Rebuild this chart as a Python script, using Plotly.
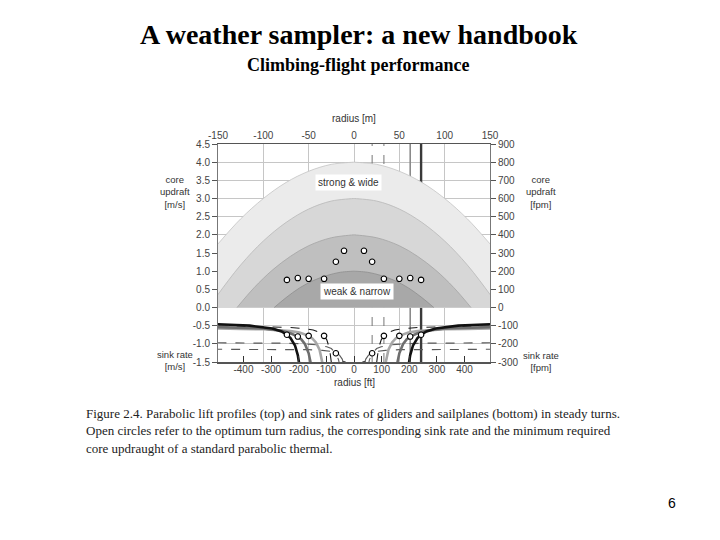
import plotly.graph_objects as go

# ---------------- data ----------------
# Upper panel: parabolic lift profiles, one side (radius m, core updraft m/s)
lift_strong_wide_r = [0, 25, 50, 75, 100, 125, 150]
lift_strong_wide_w = [4.00, 3.94, 3.75, 3.44, 3.00, 2.44, 1.75]
lift_second_r = [0, 25, 50, 75, 100, 125, 150, 160]
lift_second_w = [3.00, 2.93, 2.71, 2.34, 1.83, 1.17, 0.36, 0.0]
lift_third_r = [0, 25, 50, 70, 90, 110, 129]
lift_third_w = [2.00, 1.92, 1.70, 1.41, 1.03, 0.55, 0.0]
lift_weak_narrow_r = [0, 15, 30, 45, 60, 75, 88]
lift_weak_narrow_w = [1.00, 0.97, 0.88, 0.74, 0.54, 0.27, 0.0]

# Optimum turn radius (m), min required core updraft (m/s), corresponding sink rate (m/s)
opt_radius = [11, 20, 33, 50, 62, 74]
opt_core_updraft = [1.56, 1.26, 0.79, 0.79, 0.81, 0.76]
opt_sink = [-1.57, -1.26, -0.78, -0.78, -0.80, -0.75]

# Vertical marker lines at optimum radii (m)
marker_line_r = [20, 33, 62, 74]

# Sink rates in steady turns (radius m, sink m/s), one side
sink_1_r = [7, 8, 10, 11, 13, 16, 20, 25, 35, 50, 80, 150]
sink_1_w = [-4.46, -2.47, -1.71, -1.57, -1.42, -1.31, -1.25, -1.21, -1.18, -1.16, -1.16, -1.15]
sink_2_r = [11.5, 13, 15, 17, 20, 25, 30, 40, 55, 80, 110, 150]
sink_2_w = [-5.09, -2.37, -1.69, -1.44, -1.26, -1.13, -1.08, -1.03, -1.00, -0.98, -0.98, -0.97]
sink_3_r = [23, 25, 27, 30, 33, 38, 45, 55, 70, 90, 120, 150]
sink_3_w = [-2.99, -1.51, -1.13, -0.89, -0.78, -0.68, -0.62, -0.58, -0.55, -0.53, -0.52, -0.51]
sink_4_r = [31, 33, 35, 38, 42, 46, 50, 60, 70, 85, 100, 125, 150]
sink_4_w = [-4.43, -2.08, -1.51, -1.16, -0.96, -0.85, -0.78, -0.69, -0.65, -0.62, -0.60, -0.59, -0.58]
sink_5_r = [44, 46, 48, 50, 54, 58, 62, 70, 80, 90, 100, 120, 150]
sink_5_w = [-3.10, -1.94, -1.50, -1.26, -1.01, -0.88, -0.80, -0.71, -0.64, -0.61, -0.58, -0.56, -0.54]
sink_6_r = [56, 58, 60, 62, 65, 70, 74, 80, 90, 100, 115, 130, 150]
sink_6_w = [-5.02, -2.29, -1.62, -1.31, -1.05, -0.84, -0.75, -0.66, -0.58, -0.54, -0.50, -0.48, -0.46]

# Axis ticks
m_ticks = [-150, -100, -50, 0, 50, 100, 150]
ft_ticks = [-400, -300, -200, -100, 0, 100, 200, 300, 400]
ms_ticks = [4.5, 4.0, 3.5, 3.0, 2.5, 2.0, 1.5, 1.0, 0.5, 0.0, -0.5, -1.0, -1.5]
fpm_ticks = [900, 800, 700, 600, 500, 400, 300, 200, 100, 0, -100, -200, -300]

caption_lines = [
    "Figure 2.4. Parabolic lift profiles (top) and sink rates of gliders and sailplanes (bottom) in steady turns.",
    "Open circles refer to the optimum turn radius, the corresponding sink rate and the minimum required",
    "core updraught of a standard parabolic thermal.",
]

FT = 0.3048
W, H = 720, 540


def mirror(r, w):
    xs = [-v for v in reversed(r)] + list(r)
    ys = list(reversed(w)) + list(w)
    return xs, ys


def both_sides(r, w):
    xs = [-v for v in r] + [None] + list(r)
    ys = list(w) + [None] + list(w)
    return xs, ys


fig = go.Figure()

# vertical marker lines (behind the fills)
line_styles = [("#777777", 1, "dash"), ("#777777", 1, "dash"), ("#8a8a8a", 1.6, "solid"), ("#3a3a3a", 2.4, "solid")]
for r, (c, wdt, d) in zip(marker_line_r, line_styles):
    fig.add_trace(go.Scatter(x=[r, r], y=[-1.5, 4.5], mode="lines",
                             line=dict(color=c, width=wdt, dash=d), hoverinfo="skip", showlegend=False))

# lift profile fills
fills = [
    (lift_strong_wide_r, lift_strong_wide_w, "#ebebeb", "#c4c4c4"),
    (lift_second_r, lift_second_w, "#d7d7d7", "#b8b8b8"),
    (lift_third_r, lift_third_w, "#bfbfbf", "#a4a4a4"),
    (lift_weak_narrow_r, lift_weak_narrow_w, "#a8a8a8", "#8e8e8e"),
]
for r, w, fc, lc in fills:
    xs, ys = mirror(r, w)
    fig.add_trace(go.Scatter(x=xs, y=ys, mode="lines", fill="tozeroy", fillcolor=fc,
                             line=dict(color=lc, width=0.8, shape="spline", smoothing=1.0),
                             hoverinfo="skip", showlegend=False))

# sink curves
curves = [
    (sink_1_r, sink_1_w, "#5a5a5a", 1.1, "dash"),
    (sink_2_r, sink_2_w, "#5a5a5a", 1.1, "dash"),
    (sink_3_r, sink_3_w, "#1a1a1a", 1.1, "dash"),
    (sink_4_r, sink_4_w, "#a8a8a8", 2.6, "solid"),
    (sink_5_r, sink_5_w, "#6e6e6e", 2.6, "solid"),
    (sink_6_r, sink_6_w, "#111111", 2.6, "solid"),
]
for r, w, c, wdt, d in curves:
    xs, ys = both_sides(r, w)
    fig.add_trace(go.Scatter(x=xs, y=ys, mode="lines", line=dict(color=c, width=wdt, dash=d),
                             connectgaps=False, hoverinfo="skip", showlegend=False))

# open circles
ox = [-v for v in opt_radius] + opt_radius
fig.add_trace(go.Scatter(x=ox, y=opt_core_updraft + opt_core_updraft, mode="markers",
                         marker=dict(symbol="circle", size=5.5, color="white", line=dict(color="black", width=1.1)),
                         hoverinfo="skip", showlegend=False))
fig.add_trace(go.Scatter(x=ox, y=opt_sink + opt_sink, mode="markers",
                         marker=dict(symbol="circle", size=5.5, color="white", line=dict(color="black", width=1.1)),
                         hoverinfo="skip", showlegend=False))

# companion axes (ft bottom, fpm right)
fig.add_trace(go.Scatter(x=[ft_ticks[0], ft_ticks[-1]], y=[None, None], xaxis="x2", yaxis="y",
                         mode="lines", hoverinfo="skip", showlegend=False))
fig.add_trace(go.Scatter(x=[None, None], y=[fpm_ticks[-1], fpm_ticks[0]], xaxis="x", yaxis="y2",
                         mode="lines", hoverinfo="skip", showlegend=False))

px0, px1, py0, py1 = 218, 490, 144, 362
xdom = [px0 / W, px1 / W]
ydom = [1 - py1 / H, 1 - py0 / H]

tickfont = dict(family="Liberation Sans, Arial, sans-serif", size=10, color="#444444")


def labels(vals, fmt="{:g}"):
    return [fmt.format(v) for v in vals]


fig.update_layout(
    width=W, height=H, margin=dict(l=0, r=0, t=0, b=0, autoexpand=False),
    paper_bgcolor="white", plot_bgcolor="white",
    xaxis=dict(domain=xdom, range=[-150, 150], side="top", tickvals=m_ticks, ticktext=labels(m_ticks),
               ticks="", automargin=False,
               showgrid=True, gridcolor="#c6c6c6", gridwidth=1, zeroline=False,
               showline=True, linecolor="#555555", linewidth=1.5, mirror=True,
               tickfont=tickfont, anchor="y"),
    xaxis2=dict(overlaying="x", side="bottom", anchor="y", automargin=False,
                range=[-150 / FT, 150 / FT], tickvals=ft_ticks, ticktext=labels(ft_ticks),
                ticks="inside", ticklen=6,
                tickcolor="#333333", showgrid=False, zeroline=False, showline=False, tickfont=tickfont),
    yaxis=dict(domain=ydom, range=[-1.5, 4.5], tickvals=ms_ticks, ticktext=labels(ms_ticks, "{:.1f}"),
               ticks="outside", ticklen=5, tickcolor="#555555", automargin=False,
               showgrid=True, gridcolor="#c6c6c6", gridwidth=1, zeroline=False,
               showline=True, linecolor="#777777", linewidth=1, mirror=True,
               tickfont=tickfont, anchor="x"),
    yaxis2=dict(overlaying="y", side="right", anchor="x", range=[-300, 900], tickvals=fpm_ticks,
                ticktext=labels(fpm_ticks), automargin=False,
                ticks="outside", ticklen=5, tickcolor="#555555", showgrid=False, zeroline=False,
                showline=False, tickfont=tickfont),
)


def ann(text, xpx, ypx, size=10, family="Liberation Sans, Arial, sans-serif", color="#333333",
        xanchor="center", align="center", bg=None, pad=0):
    d = dict(text=text, x=xpx / W, y=1 - ypx / H, xref="paper", yref="paper", showarrow=False,
             xanchor=xanchor, yanchor="middle", align=align,
             font=dict(size=size, family=family, color=color))
    if bg:
        d.update(bgcolor=bg, borderpad=pad)
    fig.add_annotation(**d)


serif = "Liberation Serif, Times New Roman, serif"
ann("<b>A weather sampler: a new handbook</b>", 359, 35, size=28, family=serif, color="black")
ann("<b>Climbing-flight performance</b>", 358, 65, size=18, family=serif, color="black")

ann("radius [m]", 354, 119)
ann("radius [ft]", 354, 382)
ann("core<br>updraft<br>[m/s]", 175, 192, size=9.5)
ann("sink rate<br>[m/s]", 175, 360, size=9.5)
ann("core<br>updraft<br>[fpm]", 541, 192, size=9.5)
ann("sink rate<br>[fpm]", 541, 361, size=9.5)
ann("strong &amp; wide", 348, 182, size=10, bg="white", pad=2)
ann("weak &amp; narrow", 357, 291, size=10, bg="white", pad=2)

for i, line in enumerate(caption_lines):
    ann(line, 84, 413 + i * 17.5, size=13, family=serif, color="#222222", xanchor="left", align="left")

ann("6", 672, 503, size=14, family="Liberation Sans, Arial, sans-serif", color="black")

fig.write_html("out.html", config={"displayModeBar": False, "staticPlot": True},
               post_script="document.body.style.margin='0px';")
